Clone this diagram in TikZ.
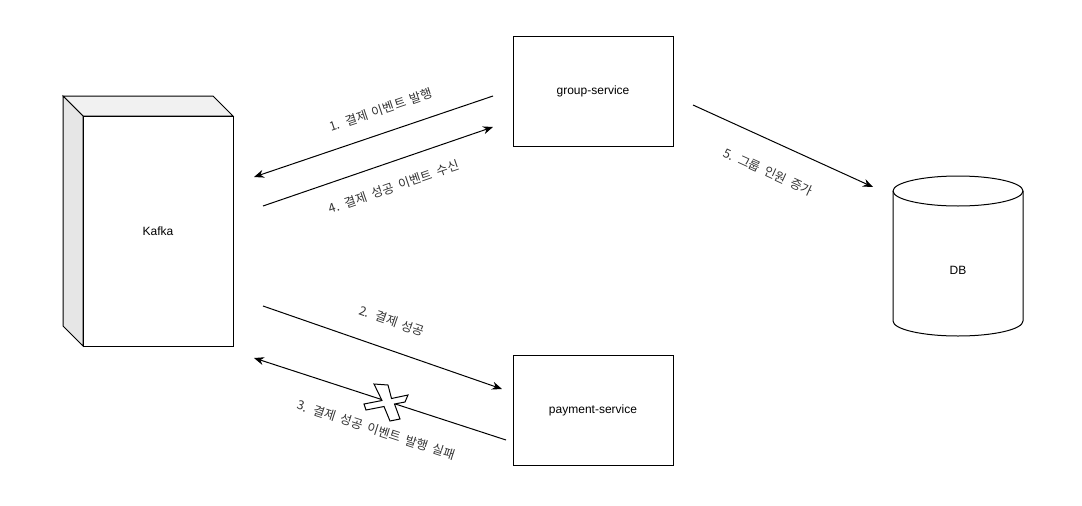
\documentclass[tikz,border=0pt]{standalone}
\usepackage{fontspec}
\setmainfont{Liberation Sans}
\newfontfamily\kofont[LetterSpace=1,WordSpace=1.8]{Noto Sans CJK KR}
\usetikzlibrary{arrows.meta}
\definecolor{FaceTop} {RGB}{241,241,241}
\definecolor{FaceSide}{RGB}{230,230,230}
\definecolor{LblText} {RGB}{51,51,51}
\tikzset{
  nd_svc/.style={
    rectangle, draw=black, fill=white, line width=1pt,
    minimum width=160pt, minimum height=110pt, inner sep=0pt,
    font=\fontsize{12}{14}\selectfont},
  nd_txt/.style={font=\fontsize{12}{14}\selectfont, inner sep=0pt},
  arr/.style={-{Stealth[length=10pt,width=8pt]}, line width=1pt},
  lbl/.style={font=\kofont\fontsize{12.5}{14}\selectfont, text=LblText, inner sep=1pt},
}

\begin{document}
\begin{tikzpicture}[x=1pt,y=-1pt]

\useasboundingbox (0,0) rectangle (1082,506);

%% kafka cube
\filldraw[fill=FaceTop,line width=1pt]  (63,96)--(213,96)--(233,116)--(83,116)--cycle;
\filldraw[fill=FaceSide,line width=1pt] (63,96)--(83,116)--(83,346)--(63,326)--cycle;
\node[nd_svc, minimum width=150pt, minimum height=230pt] (kafka) at (158,231) {Kafka};

%% services
\node[nd_svc] (group) at (593,91)  {group-service};
\node[nd_svc] (pay)   at (593,410) {payment-service};

%% db cylinder
\filldraw[fill=white,line width=1pt]
  (893,191)--(893,321) arc[start angle=180,end angle=0,x radius=65,y radius=15]
  --(1023,191) arc[start angle=0,end angle=-180,x radius=65,y radius=15]--cycle;
\draw[line width=1pt] (893,191) arc[start angle=180,end angle=0,x radius=65,y radius=15];
\node[nd_txt] (db) at (958,270) {DB};

%% free ends
\coordinate (e1s) at (493,96);  \coordinate (e1t) at (254,177);
\coordinate (e4s) at (263,206); \coordinate (e4t) at (493,127);
\coordinate (e2s) at (263,306); \coordinate (e2t) at (502,389);
\coordinate (e3s) at (506,440); \coordinate (e3t) at (254,358);
\coordinate (e5s) at (693,105); \coordinate (e5t) at (873,187);

%% arrows
\draw[arr] (e1s)--(e1t);
\draw[arr] (e4s)--(e4t);
\draw[arr] (e2s)--(e2t);
\draw[arr] (e3s)--(e3t);
\draw[arr] (e5s)--(e5t);

%% labels
\node[lbl, rotate=18.7]  (l1) at (381,110) {1. 결제 이벤트 발행};
\node[lbl, rotate=19]    (l4) at (394,187) {4. 결제 성공 이벤트 수신};
\node[lbl, rotate=-19.1] (l2) at (392,321) {2. 결제 성공};
\node[lbl, rotate=-18]   (l3) at (376,430) {3. 결제 성공 이벤트 발행 실패};
\node[lbl, rotate=-24.5] (l5) at (768,172) {5. 그룹 인원 증가};

%% fail mark
\filldraw[fill=white,line width=1pt]
  (374,384)--(388,385)--(391.5,398.5)--(408,395)--(405,402)--(394.5,404)
  --(400,419)--(390,421)--(384,406.5)--(366,410)--(364,404)--(382,400.5)--cycle;

\end{tikzpicture}
\end{document}
